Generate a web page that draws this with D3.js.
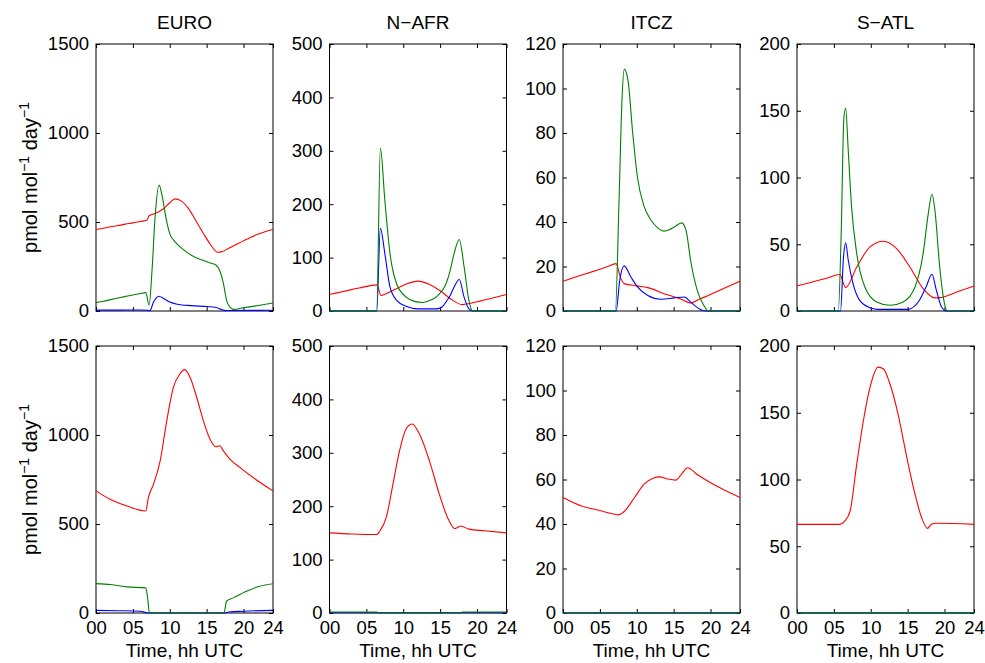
<!DOCTYPE html>
<html>
<head>
<meta charset="utf-8">
<script src="https://cdnjs.cloudflare.com/ajax/libs/d3/7.8.5/d3.min.js"></script>
<style>
  body { margin: 0; background: #fff; }
  svg text { font-family: "Liberation Sans", Arial, sans-serif; fill: #000; }
</style>
</head>
<body>
<div id="chart"></div>
<script>
// region names and axis maxima
var regions = ['EURO', 'N\u2212AFR', 'ITCZ', 'S\u2212ATL'];
var yMax = [1500, 500, 120, 200];
var yStep = [500, 100, 20, 50];
var hourTicks = [0, 5, 10, 15, 20, 24];

// top row, [hour, value]
var euroTopRed = [[0,458],[1,465],[2,473],[3,480],[4,488],[5,495],[6,503],[6.9,510],[7.2,535],[7.6,542],[8,548],[9,570],[10,608],[10.7,630],[11.5,620],[12.5,578],[13.5,510],[14.5,440],[15.5,375],[16.5,330],[17,332],[18,352],[19,373],[20,394],[21,414],[22,432],[23,447],[24,458]];
var euroTopGreen = [[0,47],[1,55],[2,64],[3,73],[4,82],[5,90],[6,98],[6.75,103],[7.2,32],[7.6,230],[8,520],[8.55,707],[9,640],[9.5,520],[10,435],[10.7,390],[11.4,360],[12.5,325],[13.5,300],[14.5,285],[15.5,270],[16.3,257],[16.8,225],[17.3,150],[17.7,60],[18.2,20],[18.6,9],[20,18],[22,31],[24,45]];
var euroTopBlue = [[0,5],[3,5],[6,6],[7.0,4],[7.3,2],[7.8,50],[8.5,83],[9.2,70],[10,50],[11,38],[13,30],[15,25],[16.3,20],[17,8],[17.6,2],[18,3],[24,4]];

var nafrTopRed = [[0,31],[2,37],[4,43],[6.4,49],[7.0,29],[7.6,32],[9,41],[10.5,51],[12,56],[13.5,50],[15,38],[16.5,22],[18,12],[19,14],[20.5,19],[22,24],[24,31]];
var nafrTopGreen = [[0,0],[6.4,0],[6.9,305],[7.5,208],[8.2,108],[9.1,51],[10.4,26],[11.5,18],[12.65,16],[13.5,19],[14.45,26],[15.2,37],[15.8,51],[16.4,78],[16.9,108],[17.6,134],[18.25,83],[18.9,20],[19.4,0],[24,0]];
var nafrTopBlue = [[0,0],[6.4,0],[6.9,155],[7.5,108],[8.2,45],[9.1,20],[10.4,9],[12,4],[14.5,4],[15.3,8],[15.8,17],[16.4,30],[16.9,45],[17.6,59],[18.25,26],[18.9,4],[19.4,0],[24,0]];

var itczTopRed = [[0,13.4],[2,15.6],[4,17.7],[6,19.9],[7.2,21.3],[7.8,15],[8.3,12.3],[10,11.3],[11.5,10.5],[13.7,7.8],[16,5.3],[17.3,3.6],[18.5,5.3],[20,7.4],[22,10.4],[24,13.4]];
var itczTopGreen = [[0,0],[7.1,0],[7.6,50],[8.0,95],[8.3,108.7],[8.8,104],[9.45,80],[10.1,60],[11,47],[11.9,41],[12.8,37.5],[13.7,35.9],[14.4,36.5],[15.1,37.8],[16.1,39.6],[16.7,36],[17.3,22.8],[18.2,9.3],[19.1,2.5],[19.7,0],[24,0]];
var itczTopBlue = [[0,0],[7.2,0],[7.7,14],[8.3,20.3],[9.2,15.3],[10.1,10.8],[11.5,7],[13.3,5.3],[15.1,5.9],[16.45,6.3],[17.3,4],[18.7,0.6],[19.5,0],[24,0]];

var satlTopRed = [[0,18.8],[2,21.6],[4,24.5],[5.8,27.3],[6.6,17.5],[8.1,33],[9.9,48],[11.7,52.3],[13.5,46.8],[15.3,33],[17.1,16.8],[18.7,9.8],[19.4,10],[21,12.8],[22.5,15.9],[24,18.8]];
var satlTopGreen = [[0,0],[5.6,0],[6.0,60],[6.35,144],[6.6,152],[6.95,120],[7.4,78],[8.1,43],[9.2,18],[10.8,6.8],[12.6,4.3],[14.4,6.8],[16,18],[17.1,43],[17.8,73],[18.3,87.5],[18.7,75.5],[19.35,33],[20,5.5],[20.35,0],[24,0]];
var satlTopBlue = [[0,0],[5.9,0],[6.3,40],[6.6,51],[6.95,38],[7.6,20.5],[8.5,8],[9.9,2.5],[11,1.2],[15,1.2],[16.6,8],[17.5,18],[18.3,27.5],[18.9,15.5],[19.6,3],[20.25,0],[24,0]];

// bottom row
var euroBotRed = [[0,686],[1.9,639],[4.2,601],[6.75,573],[7.1,648],[7.8,724],[8.7,855],[9.6,1081],[10.5,1269],[11.4,1344],[12,1367],[12.75,1325],[13.65,1212],[14.55,1081],[15.45,977],[16.25,934],[16.8,940],[17.2,915],[18.15,865],[19.5,818],[21.3,761],[24,686]];
var euroBotGreen = [[0,165],[2,160],[4.2,147],[6.75,141],[7.0,85],[7.25,0],[17.35,0],[17.7,66],[18.6,85],[20.4,122],[22.2,150],[24,164]];
var euroBotBlue = [[0,15],[3,13],[6,10],[7.1,0],[17.3,0],[18,6],[20,10],[24,15]];

var nafrBotRed = [[0,150],[3,148],[6.4,147],[6.8,153],[7.7,179],[8.6,241],[9.5,304],[10.4,345],[11.2,354],[12.2,335],[13.55,285],[14.9,222],[16,179],[17,158],[17.8,163],[18.9,157],[21,154],[24,150]];
var nafrBotGreen = [[0,2],[6.4,2],[6.6,0],[17.8,0],[18,2],[24,2]];
var nafrBotBlue = [[0,0.5],[24,0.5]];

var itczBotRed = [[0,51.9],[2.5,48.1],[4.7,46.3],[7,44.4],[7.5,44.1],[8.3,45.6],[9.7,51.9],[11,57.9],[12.2,60.6],[13.1,61.2],[14.2,60.2],[15.3,59.7],[16,62.1],[16.9,65.3],[18.25,62.1],[20.5,57.6],[22.3,54.6],[24,51.9]];
var itczBotGreen = [[0,0],[24,0]];
var itczBotBlue = [[0,0],[24,0]];

var satlBotRed = [[0,66.4],[5.8,66.4],[6.5,69],[7.2,76.4],[8.1,111.5],[9,144],[9.9,169],[11,184.2],[11.7,183],[12.6,171.7],[13.7,149],[14.8,119],[16,89],[16.9,71.4],[17.7,63.4],[18.2,66.4],[18.9,67.2],[24,66.4]];
var satlBotGreen = [[0,0.3],[24,0.3]];
var satlBotBlue = [[0,0],[24,0]];

var panels = [
  [euroTopRed, euroTopBlue, euroTopGreen], [nafrTopRed, nafrTopBlue, nafrTopGreen],
  [itczTopRed, itczTopBlue, itczTopGreen], [satlTopRed, satlTopBlue, satlTopGreen],
  [euroBotRed, euroBotBlue, euroBotGreen], [nafrBotRed, nafrBotBlue, nafrBotGreen],
  [itczBotRed, itczBotBlue, itczBotGreen], [satlBotRed, satlBotBlue, satlBotGreen]
];
var colors = ['#ff0000', '#0000ff', '#008000'];

var width = 985, height = 663;
var colX = [96, 329.5, 563, 797], pw = 177;
var rowY = [44, 346], ph = 267;

var svg = d3.select('#chart').append('svg')
  .attr('width', width).attr('height', height);

panels.forEach(function (series, i) {
  var col = i % 4, row = Math.floor(i / 4);
  var x0 = colX[col], y0 = rowY[row];
  var x = d3.scaleLinear().domain([0, 24]).range([x0, x0 + pw]);
  var y = d3.scaleLinear().domain([0, yMax[col]]).range([y0 + ph, y0]);
  var yTicks = d3.range(0, yMax[col] + 1, yStep[col]);

  var g = svg.append('g');

  // ticks inward on all four sides
  g.append('g').attr('transform', 'translate(0,' + (y0 + ph) + ')')
    .call(d3.axisBottom(x).tickValues(hourTicks).tickSizeInner(-4).tickSizeOuter(0).tickPadding(8)
      .tickFormat(function (d) { return row === 1 ? String(d).padStart(2, '0') : ''; }));
  g.append('g').attr('transform', 'translate(0,' + y0 + ')')
    .call(d3.axisTop(x).tickValues(hourTicks).tickSizeInner(-4).tickSizeOuter(0).tickFormat(''));
  g.append('g').attr('transform', 'translate(' + x0 + ',0)')
    .call(d3.axisLeft(y).tickValues(yTicks).tickSizeInner(-4).tickSizeOuter(0).tickPadding(7)
      .tickFormat(d3.format('d')));
  g.append('g').attr('transform', 'translate(' + (x0 + pw) + ',0)')
    .call(d3.axisRight(y).tickValues(yTicks).tickSizeInner(-4).tickSizeOuter(0).tickFormat(''));
  g.selectAll('.domain').remove();
  g.selectAll('.tick line').attr('stroke', '#000');
  g.selectAll('.tick text').style('font-size', '18.5px')
    .style('font-family', '"Liberation Sans", Arial, sans-serif');

  g.append('rect').attr('x', x0).attr('y', y0).attr('width', pw).attr('height', ph)
    .attr('fill', 'none').attr('stroke', '#000').attr('stroke-width', 1);

  var line = d3.line()
    .x(function (d) { return x(d[0]); })
    .y(function (d) { return y(d[1]); })
    .curve(d3.curveMonotoneX);

  series.forEach(function (s, k) {
    g.append('path').datum(s)
      .attr('d', line)
      .attr('fill', 'none')
      .attr('stroke', colors[k])
      .attr('stroke-width', 1.1);
  });

  if (row === 0) {
    svg.append('text')
      .attr('x', x0 + pw / 2).attr('y', 29)
      .attr('text-anchor', 'middle')
      .style('font-size', '19px')
      .text(regions[col]);
  } else {
    svg.append('text')
      .attr('x', x0 + pw / 2).attr('y', 657)
      .attr('text-anchor', 'middle')
      .style('font-size', '19px')
      .text('Time, hh UTC');
  }

  if (col === 0) {
    var lab = svg.append('text')
      .attr('transform', 'translate(37,' + (y0 + ph / 2) + ') rotate(-90)')
      .attr('text-anchor', 'middle')
      .style('font-size', '20px');
    lab.append('tspan').text('pmol mol');
    lab.append('tspan').attr('baseline-shift', 'super').style('font-size', '14px').text('\u22121');
    lab.append('tspan').text(' day');
    lab.append('tspan').attr('baseline-shift', 'super').style('font-size', '14px').text('\u22121');
  }
});
</script>
</body>
</html>
